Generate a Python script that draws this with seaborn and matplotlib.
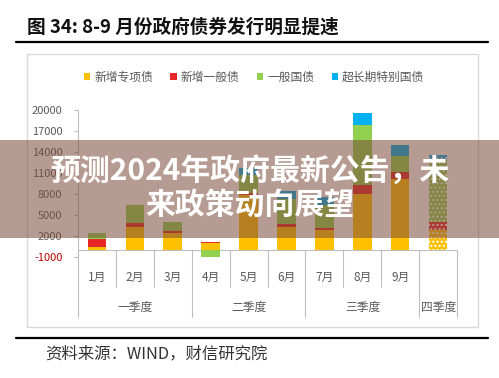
import numpy as np
import pandas as pd
import matplotlib
matplotlib.use("Agg")
import matplotlib.pyplot as plt
import seaborn as sns
from matplotlib.patches import Rectangle, Patch
from matplotlib.lines import Line2D
from matplotlib.transforms import blended_transform_factory

# ---- data (亿元) ----
categories = ["1月", "2月", "3月", "4月", "5月", "6月", "7月", "8月", "9月", "Q4"]
month_labels = ["1月", "2月", "3月", "4月", "5月", "6月", "7月", "8月", "9月", ""]
quarters = ["一季度", "二季度", "三季度", "四季度"]
quarter_span = [(0, 2), (3, 5), (6, 8), (9, 9)]
special_bond = [500, 3300, 2400, 950, 7900, 3300, 2850, 8000, 10100, 2850]
general_bond = [1100, 550, 250, 250, 200, 350, 300, 1300, 1100, 1200]
treasury_bond = [850, 2650, 1400, -950, 2600, 3700, 3300, 8550, 2250, 8800]
ultra_long = [0, 0, 0, 0, 1000, 1050, 1150, 1680, 1550, 700]
series_names = ["新增专项债", "新增一般债", "一般国债", "超长期特别国债"]
series_colors = ["#FFC000", "#E8262A", "#92D050", "#00B0F0"]
yticks = [-1000, 2000, 5000, 8000, 11000, 14000, 17000, 20000]

W, H = 499, 378
sns.set_theme(style="white")
plt.rcParams["font.family"] = ["Noto Sans CJK SC", "DejaVu Sans"]
plt.rcParams["axes.unicode_minus"] = False

fig = plt.figure(figsize=(W / 100, H / 100), dpi=100)
fig.patch.set_facecolor("white")

def fy(p):
    return 1 - p / H

def fx(p):
    return p / W

ax = fig.add_axes([fx(77.7), fy(257), fx(457.3) - fx(77.7), fy(110) - fy(257)])

df = pd.DataFrame({"cat": categories})
pos_base = np.zeros(len(categories))
neg_base = np.zeros(len(categories))
layers = [special_bond, general_bond, treasury_bond, ultra_long]
all_patches = []
for vals, color in zip(layers, series_colors):
    vals = np.array(vals, dtype=float)
    bottom = np.where(vals >= 0, pos_base, neg_base)
    d = df.copy()
    d["v"] = vals
    n_before = len(ax.patches)
    sns.barplot(data=d, x="cat", y="v", order=categories, color=color,
                width=0.48, bottom=bottom, ax=ax, errorbar=None,
                saturation=1, linewidth=0)
    all_patches.append(ax.patches[n_before:])
    pos_base = pos_base + np.where(vals > 0, vals, 0)
    neg_base = neg_base + np.where(vals < 0, vals, 0)

# dotted pattern for forecast Q4
for plist in all_patches:
    p = plist[-1]
    p.set_hatch("....")
    p.set_edgecolor("white")
    p.set_linewidth(0)

ax.set_xlim(-0.5, len(categories) - 0.5)
ax.set_ylim(-1000, 20000)
ax.set_yticks(yticks)
ax.set_yticklabels([str(t) for t in yticks], fontsize=8, color="#595959")
ax.get_yticklabels()[0].set_color("#C00000")
ax.tick_params(axis="y", length=3, width=0.8, color="#bfbfbf", pad=8, left=True)
ax.set_xticks([])
ax.set_xlabel("")
ax.set_ylabel("")
for s in ["top", "right", "bottom"]:
    ax.spines[s].set_visible(False)
ax.spines["left"].set_color("#bfbfbf")
ax.spines["left"].set_linewidth(0.8)
ax.axhline(0, color="#bfbfbf", lw=0.8, zorder=0.5)

tr = blended_transform_factory(ax.transData, fig.transFigure)
# separators
long_sep = [-0.5, 2.5, 5.5, 8.5, 9.5]
for i in range(len(categories) + 1):
    x = i - 0.5
    yb = fy(317) if x in long_sep else fy(287)
    fig.add_artist(Line2D([x, x], [fy(250), yb], transform=tr, color="#bfbfbf", lw=0.8))
for i, lab in enumerate(month_labels):
    ax.text(i, fy(277), lab, transform=tr, ha="center", va="center",
            fontsize=8.5, color="#595959")
for q, (a, b) in zip(quarters, quarter_span):
    ax.text((a + b) / 2, fy(307), q, transform=tr, ha="center", va="center",
            fontsize=8.5, color="#595959")

# legend
handles = [Patch(facecolor=c, edgecolor="none") for c in series_colors]
fig.legend(handles, series_names, loc="center", bbox_to_anchor=(fx(254), fy(77)),
           ncol=4, frameon=False, fontsize=8.5, handlelength=0.55, handleheight=0.55,
           handletextpad=0.3, columnspacing=1.5, labelcolor="#595959")

# frame, rules, title, footer
fig.add_artist(Rectangle((fx(27), fy(327)), fx(478) - fx(27), fy(54) - fy(327),
                         transform=fig.transFigure, fill=False, ec="#d9d9d9", lw=1))
fig.add_artist(Line2D([fx(16), fx(488)], [fy(41.5)] * 2, transform=fig.transFigure,
                      color="black", lw=1.6))
fig.add_artist(Line2D([fx(16), fx(488)], [fy(337.7)] * 2, transform=fig.transFigure,
                      color="black", lw=1.6))
fig.text(fx(27), fy(27), "图 34: 8-9 月份政府债券发行明显提速", ha="left", va="center",
         fontsize=13.4, fontweight="bold", color="#111111")
fig.text(fx(45), fy(354), "资料来源：WIND，财信研究院", ha="left", va="center",
         fontsize=11.8, color="#333333", style="italic")

# overlay banner
fig.add_artist(Rectangle((0, fy(238)), 1, fy(140) - fy(238), transform=fig.transFigure,
                         color="#7a4a3a", alpha=0.55, lw=0, zorder=10))
fig.text(0.5, fy(188), "预测2024年政府最新公告，未\n来政策动向展望", ha="center", va="center",
         fontsize=21.5, fontweight="bold", color="white", linespacing=1.15, zorder=11)

fig.savefig("out.png", dpi=100, facecolor="white")
